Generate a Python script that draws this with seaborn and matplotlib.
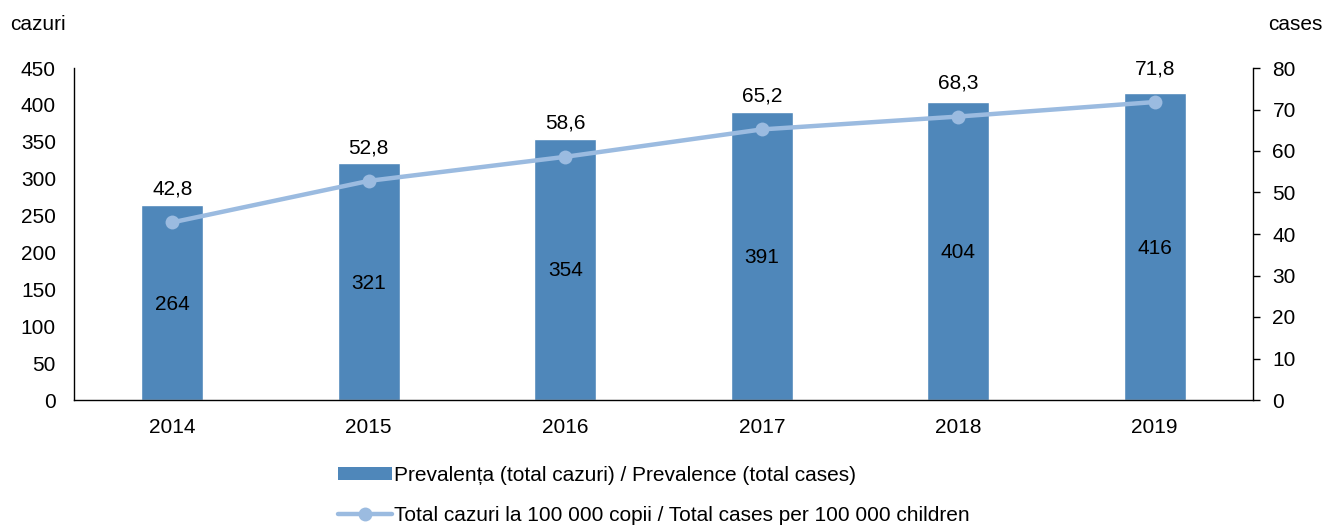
import numpy as np
import pandas as pd
import matplotlib
matplotlib.use("Agg")
import matplotlib.pyplot as plt
import seaborn as sns
from matplotlib.lines import Line2D
from matplotlib.patches import Patch

years = ["2014", "2015", "2016", "2017", "2018", "2019"]
total_cases = [264, 321, 354, 391, 404, 416]
per_100k = [42.8, 52.8, 58.6, 65.2, 68.3, 71.8]

bar_color = "#4F87BA"
line_color = "#9BBBE0"
fs = 15

sns.set_style("white")
plt.rcParams["font.family"] = ["Liberation Sans", "DejaVu Sans"]
plt.rcParams["font.size"] = fs
plt.rcParams["text.color"] = "black"
plt.rcParams["xtick.color"] = "black"
plt.rcParams["ytick.color"] = "black"

df = pd.DataFrame({"Year": years, "Cases": total_cases, "Rate": per_100k})

fig = plt.figure(figsize=(13.25, 5.25), dpi=100)
ax = fig.add_axes([74 / 1325, 1 - 400 / 525, (1253 - 74) / 1325, (400 - 68) / 525])

sns.barplot(data=df, x="Year", y="Cases", color=bar_color, saturation=1, width=0.315, ax=ax)
ax.set_ylim(0, 450)
ax.set_yticks(range(0, 451, 50))
ax.set_xlim(-0.5, 5.5)
ax.set_xlabel("")
ax.set_ylabel("")
for s in ["top", "right"]:
    ax.spines[s].set_visible(False)
for s in ["left", "bottom"]:
    ax.spines[s].set_color("black")
    ax.spines[s].set_linewidth(1)
ax.tick_params(axis="y", length=0, pad=13, labelsize=fs)
ax.tick_params(axis="x", length=0, pad=13, labelsize=fs)

for i, v in enumerate(total_cases):
    ax.text(i, v / 2 - 2, str(v), ha="center", va="center", fontsize=fs)

ax2 = ax.twinx()
sns.lineplot(x=np.arange(len(years)), y=per_100k, color=line_color, linewidth=3.2,
             marker="o", markersize=10, markeredgewidth=0, ax=ax2)
ax2.set_ylim(0, 80)
ax2.set_yticks(range(0, 81, 10))
ax2.set_xlim(-0.5, 5.5)
for s in ["top", "left", "bottom"]:
    ax2.spines[s].set_visible(False)
ax2.spines["right"].set_color("black")
ax2.spines["right"].set_linewidth(1)
ax2.tick_params(axis="y", length=5, width=1, direction="out", pad=9, labelsize=fs, color="black")

for i, v in enumerate(per_100k):
    ax2.annotate(f"{v:.1f}".replace(".", ","), (i, v), xytext=(0, 24), textcoords="offset points",
                 ha="center", va="center", fontsize=fs)

fig.text(10 / 1325, 1 - 25 / 525, "cazuri", ha="left", va="center", fontsize=fs)
fig.text(1268 / 1325, 1 - 25 / 525, "cases", ha="left", va="center", fontsize=fs)

handles = [
    Patch(facecolor=bar_color, edgecolor="none"),
    Line2D([0], [0], color=line_color, linewidth=3.2, marker="o", markersize=10, markeredgewidth=0),
]
labels = [
    "Prevalența (total cazuri) / Prevalence (total cases)",
    "Total cazuri la 100 000 copii / Total cases per 100 000 children",
]
fig.legend(handles, labels, loc="upper left", bbox_to_anchor=(338 / 1325, 1 - 466 / 525),
           frameon=False, fontsize=fs, handlelength=2.6, handleheight=0.6, handletextpad=0.1,
           labelspacing=1.0, borderaxespad=0, borderpad=0)

fig.savefig("out.png", dpi=100)
